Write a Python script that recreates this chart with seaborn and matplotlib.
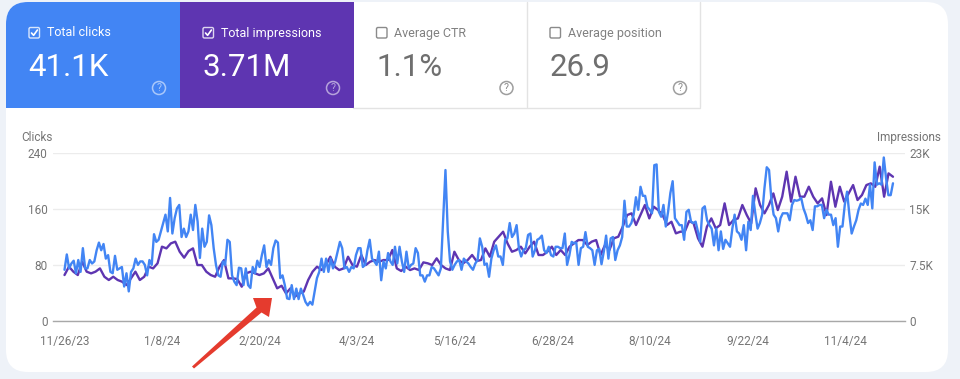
import numpy as np
import pandas as pd
import matplotlib
matplotlib.use("Agg")
import matplotlib.pyplot as plt
import matplotlib.dates as mdates
from matplotlib.patches import FancyBboxPatch, Polygon, Rectangle, Circle
import seaborn as sns

# values
clicks = [73, 95, 75, 82, 86, 68, 87, 70, 104, 75, 75, 87, 82, 85, 101, 112, 101, 110, 89, 94,
          70, 68, 93, 73, 75, 77, 49, 68, 42, 70, 75, 89, 80, 85, 85, 80, 65, 87, 80, 124,
          113, 116, 128, 140, 152, 128, 176, 125, 147, 161, 166, 120, 132, 120, 128, 152, 130, 166, 142, 90,
          132, 106, 113, 151, 137, 104, 80, 65, 63, 85, 80, 116, 113, 65, 56, 51, 76,
          75, 51, 75, 51, 47, 77, 68, 86, 77, 94, 108, 77, 87, 80, 104, 115, 112, 61, 65,
          51, 32, 31, 51, 31, 46, 31, 46, 37, 27, 22, 27, 23, 42, 61, 70, 89, 70, 89, 70,
          89, 75, 85, 99, 113, 104, 75, 77, 70, 77, 75, 94, 104, 104, 77, 80, 101, 116, 89, 85,
          80, 99, 58, 85, 75, 97, 85, 80, 106, 82, 106, 85, 70, 99, 75, 80, 82, 104, 97, 65,
          65, 56, 65, 65, 77, 75, 70, 65, 75, 147, 216, 128, 85, 73, 80, 85, 87, 73, 89, 85,
          82, 77, 73, 82, 87, 118, 106, 80, 82, 63, 89, 101, 108, 92, 92, 80, 116, 118, 140, 120,
          125, 137, 104, 92, 101, 104, 123, 125, 92, 101, 116, 118, 122, 101, 97, 106, 94, 92, 106, 106,
          104, 104, 125, 80, 94, 113, 111, 112, 80, 104, 106, 127, 106, 104, 101, 80, 101, 103, 81, 99,
          122, 89, 118, 120, 87, 101, 108, 120, 172, 135, 135, 140, 152, 177, 159, 192, 179, 179, 163, 159,
          154, 223, 224, 156, 149, 166, 135, 156, 183, 200, 147, 142, 137, 137, 116, 156, 159, 142, 140, 142,
          128, 113, 161, 164, 144, 137, 132, 108, 132, 101, 128, 103, 116, 111, 106, 132, 152, 128, 125, 116,
          137, 101, 142, 130, 179, 154, 132, 140, 152, 190, 220, 216, 175, 152, 147, 128, 147, 154, 154, 154,
          144, 166, 173, 172, 173, 176, 161, 152, 140, 144, 130, 164, 164, 166, 166, 147, 159, 152, 152, 137,
          147, 106, 135, 135, 166, 185, 152, 125, 135, 144, 159, 168, 166, 175, 166, 195, 161, 227, 195, 197,
          195, 234, 204, 180, 180, 197]

impressions = [6140, 7260, 6590, 6140, 7930, 6590, 6360, 6590, 7030, 5910, 5470, 5910, 5470, 5240, 4790, 5690,
               6590, 5470, 5910, 7260, 7030, 7710, 9950, 9720, 10390, 10620, 9270, 8470, 9360, 9720, 7480, 7480,
               6590, 6140, 5910, 7260, 8150, 5690, 5690, 5600, 4570, 6360, 6590, 6360, 6140, 6360, 7030, 5690,
               4350, 4700, 3670, 4350, 3230, 3670, 3900, 5470, 6590, 7260, 6810, 7480, 8600, 7260, 6810, 7030,
               8600, 7480, 7260, 8830, 7480, 7930, 8150, 7930, 8150, 8150, 9500, 7030, 6680, 7260, 6810, 7030,
               6810, 7840, 7710, 7480, 8380, 7480, 7030, 6810, 9270, 8150, 7710, 8150, 8830, 8020, 8150, 9720,
               8600, 10620, 11290, 11960, 10390, 9270, 9500, 9950, 9050, 9950, 10620, 8830, 8830, 9270, 9950, 8830,
               9500, 8830, 9950, 10390, 10840, 10840, 10170, 10620, 10840, 8830, 10170, 9500, 11070, 11290, 12630, 14200,
               14430, 12860, 14200, 15550, 13750, 15320, 14870, 14200, 12860, 13300, 11740, 11960, 11960, 13400, 13080, 11070,
               9950, 12630, 13750, 12410, 12860, 15770, 12860, 13530, 13750, 15550, 14200, 13080, 17790, 15550, 14430, 15550,
               17110, 14870, 16670, 20030, 16000, 19350, 16670, 16670, 18010, 16670, 15770, 16440, 14200, 18680, 15320, 18010,
               16000, 17110, 18230, 16220, 16890, 18230, 18460, 18000, 20700, 16670, 19800, 19350]

tick_labels = ["11/26/23", "1/8/24", "2/20/24", "4/3/24", "5/16/24", "6/28/24", "8/10/24", "9/22/24", "11/4/24"]
left_ticks = [0, 80, 160, 240]
right_ticks = [0, 7500, 15000, 22500]
right_labels = ["0", "7.5K", "15K", "23K"]
card_titles = ["Total clicks", "Total impressions", "Average CTR", "Average position"]
card_values = ["41.1K", "3.71M", "1.1%", "26.9"]

BLUE = "#4285f4"
PURPLE = "#5e35b1"
GRAY = "#757575"

sns.set_theme(style="white")
plt.rcParams["font.family"] = ["Roboto", "DejaVu Sans"]

start, end = pd.Timestamp("2023-11-26"), pd.Timestamp("2024-11-25")
df_clicks = pd.DataFrame({"date": pd.date_range(start, end, periods=len(clicks)), "clicks": clicks})
df_impr = pd.DataFrame({"date": pd.date_range(start, end, periods=len(impressions)), "impressions": impressions})

W, H = 960, 379
fig = plt.figure(figsize=(W / 100, H / 100), dpi=100, facecolor="#eef2f8")

# page furniture in pixel coordinates
ui = fig.add_axes([0, 0, 1, 1], zorder=0)
ui.set_xlim(0, W)
ui.set_ylim(H, 0)
ui.axis("off")
ui.add_patch(FancyBboxPatch((6, 2), 942, 370, boxstyle="round,pad=0,rounding_size=22", fc="white", ec="none"))

# tiles
clip = FancyBboxPatch((6, 2), 942, 370, boxstyle="round,pad=0,rounding_size=22", fc="none", ec="none",
                      transform=ui.transData)
ui.add_patch(clip)
tile_x = [6, 180, 353.5, 527]
tile_w = [174, 173.5, 173.5, 173]
tile_fc = [BLUE, PURPLE, "white", "white"]
for i in range(4):
    r = ui.add_patch(Rectangle((tile_x[i], 2), tile_w[i], 106, fc=tile_fc[i], ec="none"))
    r.set_clip_path(clip)
    on = i < 2
    x0 = tile_x[i] + 23
    ui.add_patch(FancyBboxPatch((x0, 27.5), 10.5, 10.5, boxstyle="round,pad=0,rounding_size=1.5",
                                fc="none", ec="#ffffff" if on else "#8a8a8a", lw=1.0, alpha=0.8 if on else 1))
    if on:
        ui.plot([x0 + 2.5, x0 + 4.6, x0 + 8.4], [33, 35.3, 30], color="white", lw=1.2)
    ui.text(x0 + 18, 33, card_titles[i], color="white" if on else "#808080", fontsize=9, va="center", ha="left")
    ui.text(x0 - 0.5, 67.5, card_values[i], color="white" if on else "#6f6f6f", fontsize=22.5, va="center", ha="left")
    cx = tile_x[i] + 153
    ui.add_patch(Circle((cx, 88), 6.5, fc="none", ec="white" if on else "#9e9e9e", lw=1.1, alpha=0.55 if on else 1))
    ui.text(cx, 88, "?", color="white" if on else "#8a8a8a", alpha=0.55 if on else 1, fontsize=7.5,
            ha="center", va="center")
ui.plot([527, 527], [2, 107], color="#e3e3e3", lw=1)
ui.plot([700, 700], [2, 107], color="#e3e3e3", lw=1)
ui.plot([353, 700], [107.5, 107.5], color="#e3e3e3", lw=1)

# chart
px_l, px_r, px_top, px_bot = 53, 905, 153.3, 320.7
ax2 = fig.add_axes([px_l / W, 1 - px_bot / H, (px_r - px_l) / W, (px_bot - px_top) / H], zorder=1)
ax = ax2.twinx()
ax.set_zorder(2)
ax.patch.set_visible(False)
ax2.patch.set_visible(False)

sns.lineplot(data=df_impr, x="date", y="impressions", ax=ax2, color=PURPLE, linewidth=1.7, errorbar=None)
sns.lineplot(data=df_clicks, x="date", y="clicks", ax=ax, color=BLUE, linewidth=1.7, errorbar=None)

xlim = (mdates.date2num(start) - 5.07, mdates.date2num(start) + 370.3)
ax.set_xlim(xlim)
ax2.set_xlim(xlim)
ax.set_ylim(0, 240)
ax2.set_ylim(0, 22500)

tick_dates = [start + pd.Timedelta(days=43 * i) for i in range(len(tick_labels))]
ax2.set_xticks(tick_dates)
ax2.set_xticklabels(tick_labels, fontsize=8.5, color=GRAY)

# left axis shows clicks, right axis impressions
ax.yaxis.tick_left()
ax2.yaxis.tick_right()
ax.set_yticks(left_ticks)
ax.set_yticklabels([str(t) for t in left_ticks], fontsize=8.5, color=GRAY)
ax2.set_yticks(right_ticks)
ax2.set_yticklabels(right_labels, fontsize=8.5, color=GRAY)
ax.set_xlabel("")
ax2.set_xlabel("")
ax.set_ylabel("")
ax2.set_ylabel("")
ax.tick_params(axis="both", length=0, pad=4)
ax2.tick_params(axis="both", length=0, pad=3)
ax2.tick_params(axis="x", pad=10)
ax2.grid(axis="y", color="#ececec", lw=1)
for a in (ax, ax2):
    for s in a.spines.values():
        s.set_visible(False)
ax2.spines["bottom"].set_visible(True)
ax2.spines["bottom"].set_color("#a8a8a8")
ax2.spines["bottom"].set_linewidth(1)

ui.text(21, 137.5, "Clicks", color=GRAY, fontsize=8.5, va="center", ha="left")
ui.text(941, 137.5, "Impressions", color=GRAY, fontsize=8.5, va="center", ha="right")

# red annotation arrow, tapered towards the tail
arrow = Polygon([(272, 298), (269, 317), (261.5, 312.5), (194, 368.5), (192, 366.5), (256.5, 307.5), (253, 298)],
                closed=True, fc="#e53b2e", ec="none", transform=ui.transData, zorder=5)
fig.add_artist(arrow)

fig.savefig("out.png", dpi=100, facecolor=fig.get_facecolor())
